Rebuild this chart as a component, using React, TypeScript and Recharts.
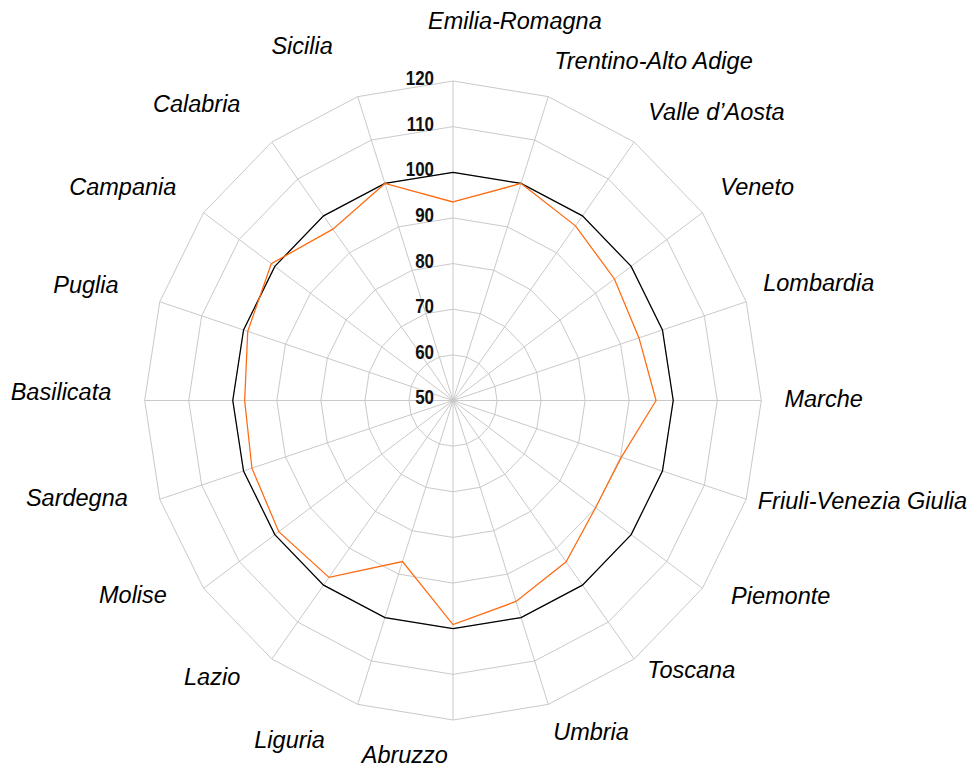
import React from 'react';
import { RadarChart, Radar, PolarGrid, PolarAngleAxis, PolarRadiusAxis } from 'recharts';

// Regioni in senso orario, a partire dall'alto
const REGIONS = [
  'Emilia-Romagna', 'Trentino-Alto Adige', 'Valle d\u2019Aosta', 'Veneto', 'Lombardia',
  'Marche', 'Friuli-Venezia Giulia', 'Piemonte', 'Toscana', 'Umbria',
  'Abruzzo', 'Liguria', 'Lazio', 'Molise', 'Sardegna',
  'Basilicata', 'Puglia', 'Campania', 'Calabria', 'Sicilia',
];

// Riferimento (linea nera) = 100
const BASE = [100, 100, 100, 100, 100, 100, 100, 100, 100, 100, 100, 100, 100, 100, 100, 100, 100, 100, 100, 100];

// Serie arancione
const VALUES = [93.5, 100, 97.3, 95.3, 94.4, 96.1, 90.2, 90.0, 93.7, 96.3, 99.1, 87.1, 97.9, 98.9, 98.0, 97.3, 99.0, 101.0, 96.4, 100];

const RADIUS_TICKS = [50, 60, 70, 80, 90, 100, 110, 120];

// spostamento etichette rispetto al punto del tick: [dx, dy, ancoraggio]
const LABEL_OFFSETS: [number, number, string][] = [
  [-25, -52, 'start'], [3.5, -28, 'start'], [9.5, -23.5, 'start'], [11.7, -20.7, 'start'], [9.6, -16, 'start'],
  [15.4, -2, 'start'], [4.2, -1, 'start'], [22.4, 2.7, 'start'], [8.5, 4.5, 'start'], [2.5, 20, 'start'],
  [-91.3, 26.5, 'start'], [-30.5, 27.7, 'end'], [-27, 12, 'end'], [-30.4, 1.7, 'end'], [-24.6, -3.5, 'end'],
  [-25.7, -9, 'end'], [-33.9, -14, 'end'], [-21, -21, 'end'], [-26.8, -31.5, 'end'], [-22.5, -43, 'end'],
];

const data = REGIONS.map((region, i) => ({ region, base: BASE[i], value: VALUES[i] }));

// il grafico originale è leggermente schiacciato in orizzontale
const K = 0.965;
const PAD = 20;
const CX = 453 + PAD;
const CY = 400.5;

const AngleTick = (props: any) => {
  const { x, y, payload } = props;
  const idx = props.index ?? payload.index ?? 0;
  const [dx, dy, anchor] = LABEL_OFFSETS[idx];
  return (
    <g transform={`translate(${x},${y}) scale(${1 / K},1)`}>
      <text
        x={dx}
        y={dy}
        textAnchor={anchor}
        dominantBaseline="central"
        fontFamily="'Liberation Sans', Arial, sans-serif"
        fontStyle="italic"
        fontSize={23.5}
        fill="#000"
      >
        {payload.value}
      </text>
    </g>
  );
};

const RadiusTick = (props: any) => {
  const { x, y, payload } = props;
  return (
    <g transform={`translate(${x},${y}) scale(${1 / K},1)`}>
      <g transform="translate(-19,-3) scale(0.87,1)">
        <text
          textAnchor="end"
          dominantBaseline="central"
          fontFamily="'Liberation Sans', Arial, sans-serif"
          fontWeight="bold"
          fontSize={19.5}
          fill="#111"
        >
          {payload.value}
        </text>
      </g>
    </g>
  );
};

const App: React.FC = () => {
  return (
    <div style={{ position: 'absolute', left: 0, top: 0, width: 976, height: 767, overflow: 'hidden', background: '#fff' }}>
      <div
        style={{
          position: 'absolute',
          left: -PAD,
          top: 0,
          width: 976 + 2 * PAD,
          height: 767,
          transform: `scaleX(${K})`,
          transformOrigin: `${CX}px 0px`,
        }}
      >
        <RadarChart
          width={976 + 2 * PAD}
          height={767}
          data={data}
          cx={CX}
          cy={CY}
          outerRadius={319.5}
          margin={{ top: 0, right: 0, bottom: 0, left: 0 }}
        >
          <PolarGrid gridType="polygon" stroke="#c8c8c8" strokeWidth={1} />
          <PolarAngleAxis dataKey="region" tick={AngleTick} tickLine={false} axisLine={false} />
          <PolarRadiusAxis
            angle={90}
            domain={[50, 120]}
            ticks={RADIUS_TICKS}
            tickCount={8}
            axisLine={false}
            tickLine={false}
            tick={RadiusTick}
          />
          <Radar dataKey="base" stroke="#000" strokeWidth={1.3} fill="none" fillOpacity={0} dot={false} isAnimationActive={false} />
          <Radar dataKey="value" stroke="#ff6a10" strokeWidth={1.3} fill="none" fillOpacity={0} dot={false} isAnimationActive={false} />
        </RadarChart>
      </div>
    </div>
  );
};

export default App;
